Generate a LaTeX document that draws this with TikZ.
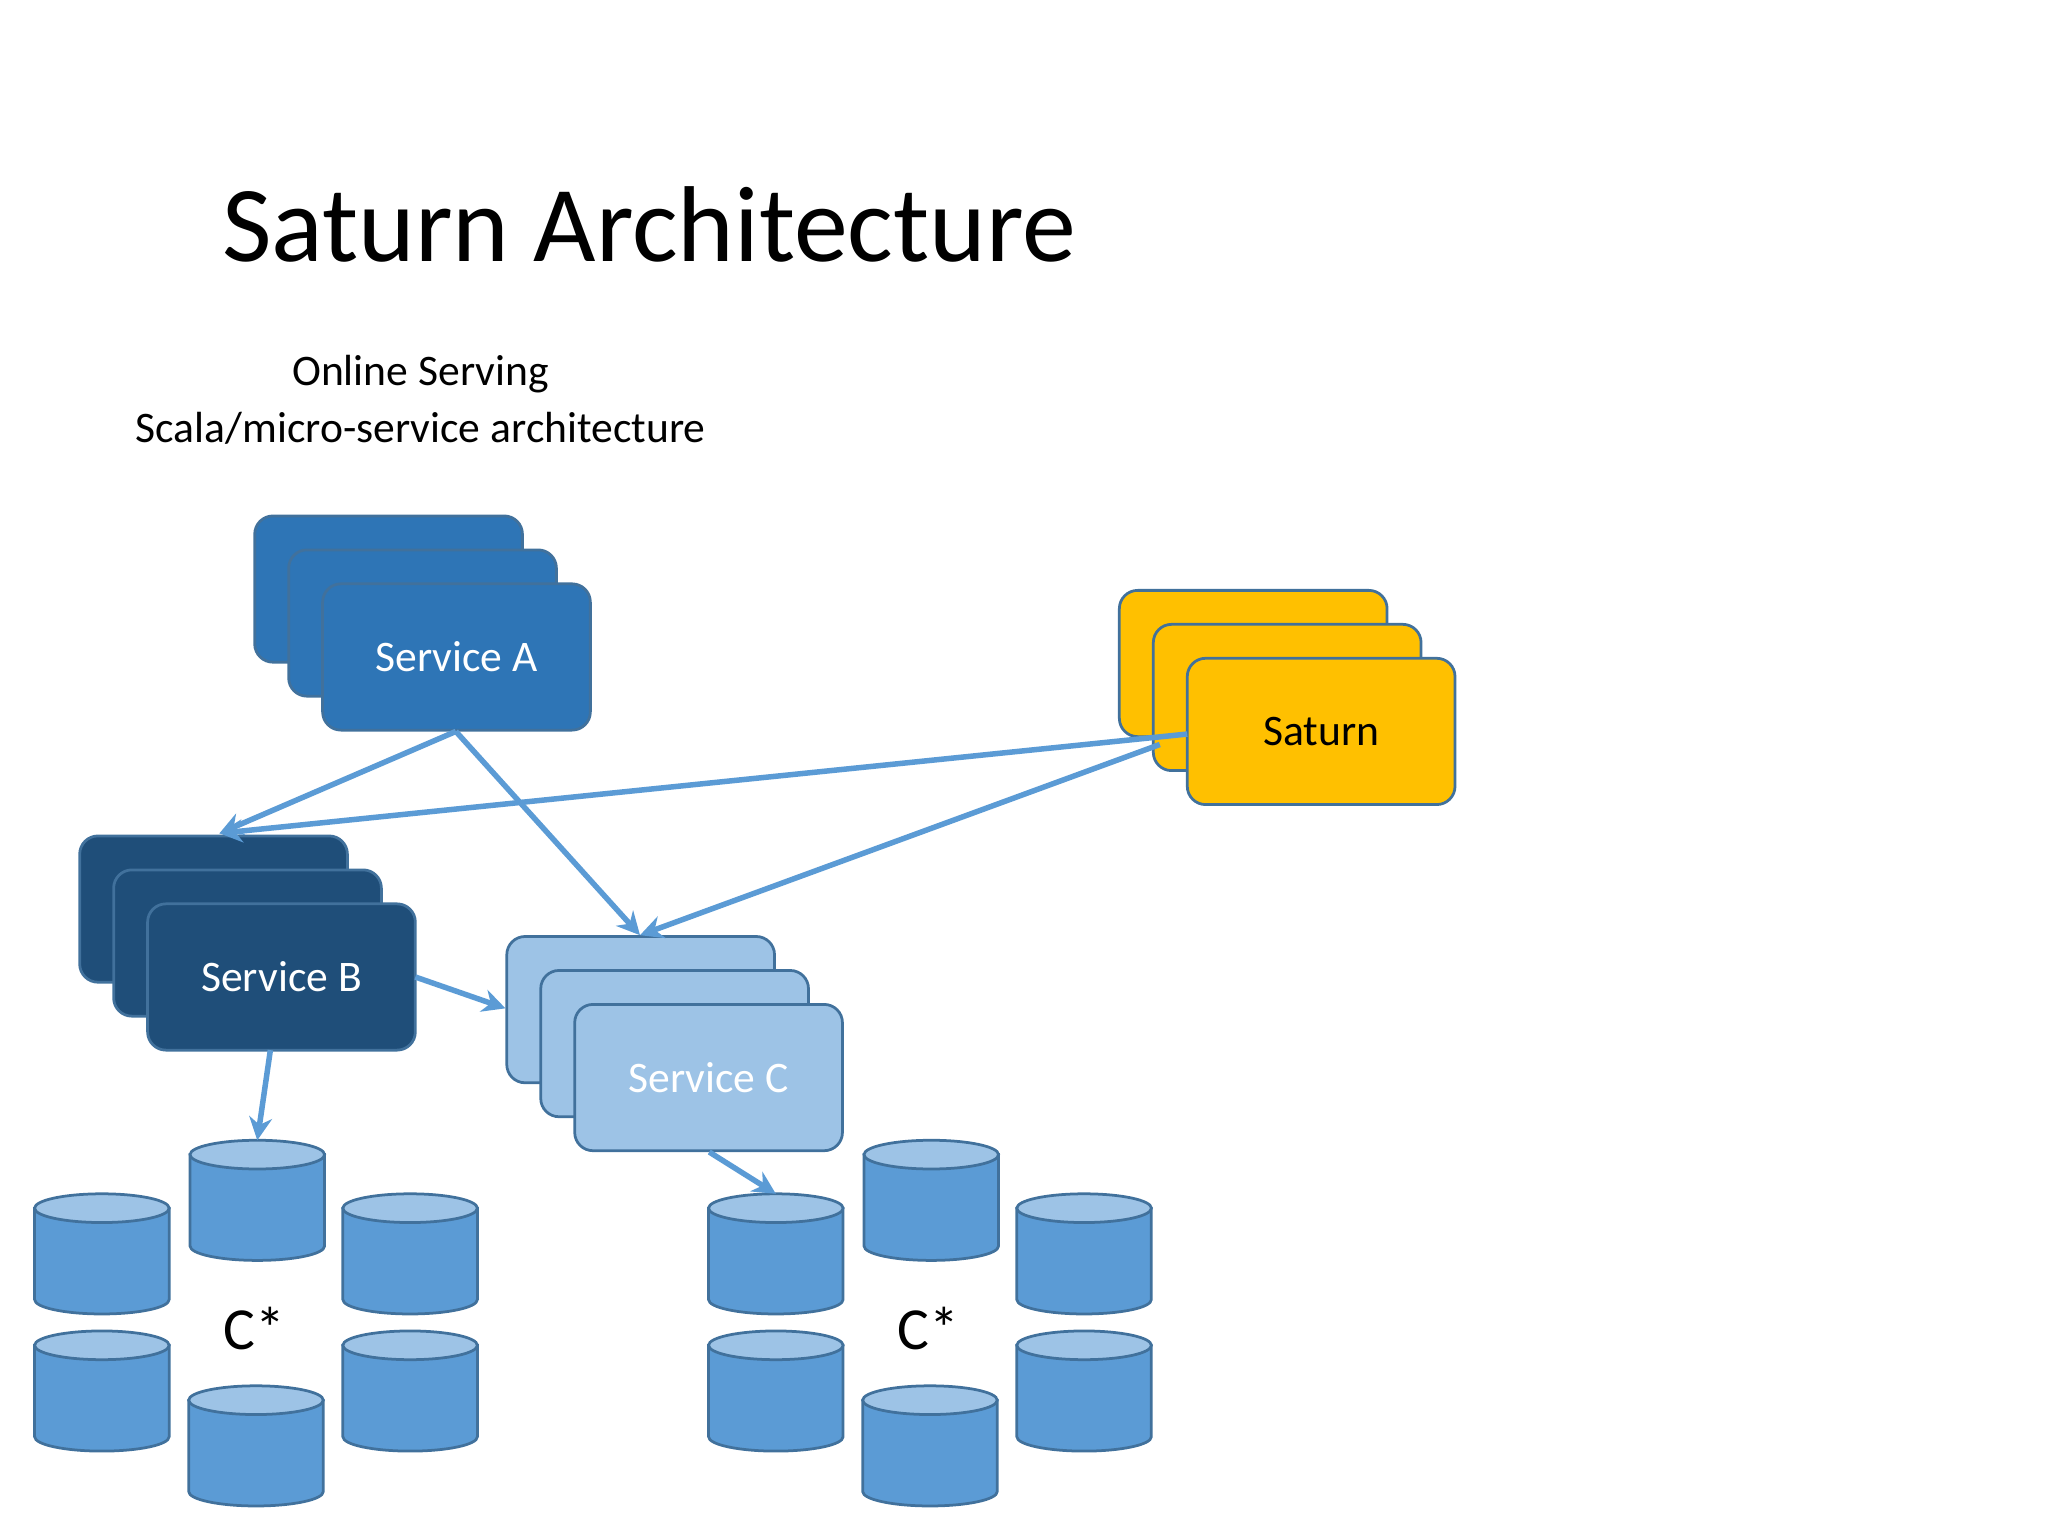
\documentclass[tikz,border=0pt]{standalone}
\usepackage{fontspec}
\setmainfont{Carlito}
\usetikzlibrary{arrows.meta}
\definecolor{cA}{HTML}{2E75B6}
\definecolor{cB}{HTML}{1F4E79}
\definecolor{cC}{HTML}{9DC3E6}
\definecolor{cS}{HTML}{FFC000}
\definecolor{bord}{HTML}{41719C}
\definecolor{arr}{HTML}{5B9BD5}
\definecolor{cylbody}{HTML}{5B9BD5}
\definecolor{cyltop}{HTML}{9DC3E6}
\tikzset{
  box/.style={draw=bord, line width=1.2pt, rounded corners=0.28cm},
  lbl/.style={font=\fontsize{19}{23}\selectfont},
  conn/.style={draw=arr, line width=2.4pt, -{Stealth[length=10pt,width=10pt]}},
  cylb/.style={draw=bord, line width=1.2pt, fill=cylbody},
  cylt/.style={draw=bord, line width=1.2pt, fill=cyltop},
}
\newcommand\stackbox[6]{% name, x, y, fill, label, textcolor
  \foreach \k in {0,1,2}{
    \draw[box, fill=#4] ({#2+26*\k},{-(#3+26*\k)}) rectangle ({#2+26*\k+205},{-(#3+26*\k+112)});
  }
  \node[lbl, text=#6, minimum width=4.1cm, minimum height=2.24cm] (#1) at ({#2+52+102.5},{-(#3+52+56)}) {#5};
}
\newcommand\cyl[3]{% name, cx, top y
  \draw[cylb] ({#2-51.5},{-(#3+11)}) -- ({#2-51.5},{-(#3+81)}) arc[start angle=180,end angle=360,x radius=51.5,y radius=11] -- ({#2+51.5},{-(#3+11)}) -- cycle;
  \draw[cylt] ({#2},{-(#3+11)}) ellipse[x radius=51.5,y radius=11];
  \coordinate (#1) at ({#2},{-(#3)});
}
\begin{document}
\begin{tikzpicture}[x=0.02cm,y=0.02cm]
\useasboundingbox (0,0) rectangle (1568,-1176);
\node[font=\fontsize{47}{56}\selectfont] (title) at (497,-172) {Saturn Architecture};
\node[font=\fontsize{19}{23}\selectfont, align=center] (sub) at (322,-306) {Online Serving\\[2pt]Scala/micro-service architecture};

\stackbox{A}{195}{395}{cA}{Service A}{white}
\stackbox{S}{857}{452}{cS}{Saturn}{black}
\stackbox{B}{61}{640}{cB}{Service B}{white}
\stackbox{C}{388}{717}{cC}{Service C}{white}

\cyl{g1a}{78}{914}\cyl{g1b}{197}{873}\cyl{g1c}{314}{914}
\cyl{g1d}{78}{1019}\cyl{g1e}{196}{1061}\cyl{g1f}{314}{1019}
\cyl{g2a}{594}{914}\cyl{g2b}{713}{873}\cyl{g2c}{830}{914}
\cyl{g2d}{594}{1019}\cyl{g2e}{712}{1061}\cyl{g2f}{830}{1019}
\node[font=\fontsize{26}{30}\selectfont] (cs1) at (195,-1017) {C*};
\node[font=\fontsize{26}{30}\selectfont] (cs2) at (711,-1017) {C*};

\coordinate (Abot) at (349,-560);
\coordinate (Btop) at (168,-638);
\coordinate (Ctop) at (490,-716);
\coordinate (Sl) at (909,-562);
\coordinate (Sl2) at (888,-570);
\draw[conn] (Abot) -- (Btop);
\draw[conn] (Abot) -- (Ctop);
\draw[conn] (Sl) -- (Btop);
\draw[conn] (Sl2) -- (Ctop);
\coordinate (Br) at (318,-748);
\coordinate (Cl) at (387,-772);
\draw[conn] (Br) -- (Cl);
\coordinate (Bb) at (207,-804);
\draw[conn] (Bb) -- (g1b);
\coordinate (Cb) at (543,-882);
\draw[conn] (Cb) -- (g2a);
\end{tikzpicture}
\end{document}
